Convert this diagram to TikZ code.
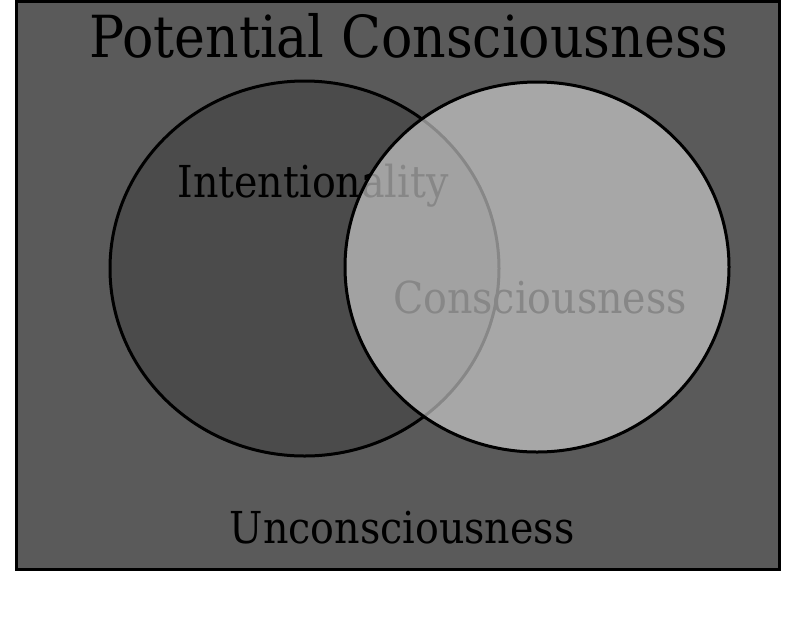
\documentclass[tikz,border=0pt]{standalone}
\usepackage{fontspec}
\setmainfont{DejaVu Serif Condensed}
\usepackage{tikz}
\tikzstyle{frame} = [draw=black, line width=3pt, fill={rgb,255:red,90;green,90;blue,90}]
\tikzstyle{setA} = [draw=black, line width=3pt, fill={rgb,255:red,75;green,75;blue,75}]
\tikzstyle{setB} = [draw=black, line width=3pt, fill={rgb,255:red,212;green,212;blue,212}, fill opacity=0.64]
\tikzstyle{setText} = [anchor=base, inner sep=0pt, text=black, font=\fontsize{44}{46}\selectfont]

\begin{document}
\begin{tikzpicture}[x=1pt, y=-1pt]
				\useasboundingbox (0,0) rectangle (802,630);
				\draw [frame] (16.5,1.5) rectangle (779,569);
				\draw [setA] (304.5,268.5) ellipse [x radius=194.5, y radius=187.5];
				\node (intent) [setText] at (313,197) {Intentionality};
				\node (consc) [setText] at (540,313) {Consciousness};
				\draw [setB] (537,267) ellipse [x radius=192, y radius=185];
				\node (potential) [setText, font=\fontsize{58}{60}\selectfont] at (409,57) {Potential Consciousness};
				\node (uncons) [setText] at (402,543) {Unconsciousness};
			\end{tikzpicture}
\end{document}
